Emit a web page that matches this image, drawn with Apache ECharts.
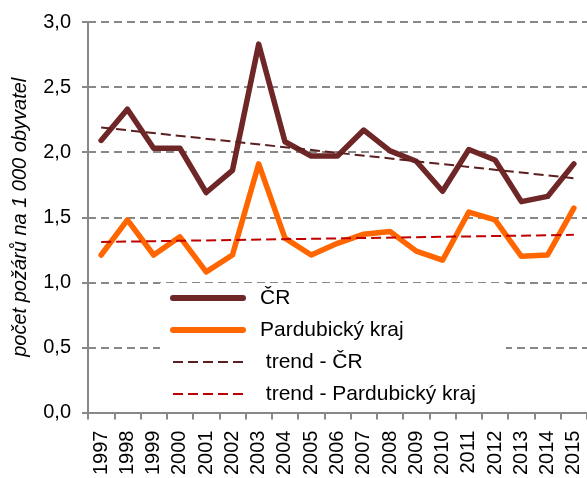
<!DOCTYPE html>
<html>
<head>
<meta charset="utf-8">
<script src="https://cdn.jsdelivr.net/npm/echarts@6/dist/echarts.min.js"></script>
<style>
  html, body { margin: 0; padding: 0; background: #fff; }
  #chart { width: 587px; height: 478px; }
</style>
</head>
<body>
<div id="chart"></div>
<script>
// Years on the category axis
const years = ['1997','1998','1999','2000','2001','2002','2003','2004','2005','2006',
               '2007','2008','2009','2010','2011','2012','2013','2014','2015'];

// Number of fires per 1 000 inhabitants
const cr = [2.09, 2.33, 2.03, 2.03, 1.69, 1.86, 2.83, 2.08, 1.97, 1.97,
            2.17, 2.01, 1.93, 1.70, 2.02, 1.94, 1.62, 1.66, 1.91];
const pardubice = [1.21, 1.48, 1.21, 1.35, 1.08, 1.21, 1.91, 1.34, 1.21, 1.30,
                   1.37, 1.39, 1.24, 1.17, 1.54, 1.48, 1.20, 1.21, 1.57];

// Linear trend lines: start and end values, joined straight across
const trendCrEnds = [2.19, 1.80];
const trendPardEnds = [1.31, 1.365];

// Y axis ticks
const yMin = 0, yMax = 3, yStep = 0.5;

// Series names (legend)
const names = ['ČR', 'Pardubický kraj', ' trend - ČR', ' trend - Pardubický kraj'];

function endsOnly(ends) {
  return years.map((_, i) => i === 0 ? ends[0] : (i === years.length - 1 ? ends[1] : null));
}

const font = 'Liberation Sans, Arial, sans-serif';
const chart = echarts.init(document.getElementById('chart'), null, { renderer: 'canvas' });

const mainLine = { width: 5.5, cap: 'round', join: 'round' };
const trendLine = { width: 2, type: [10, 5] };

chart.setOption({
  animation: false,
  backgroundColor: '#fff',
  grid: { left: 88, top: 22, width: 507, height: 392, containLabel: false },
  xAxis: {
    type: 'category',
    data: years,
    boundaryGap: true,
    axisLine: { lineStyle: { color: '#888', width: 2 } },
    axisTick: { show: true, length: 7, alignWithLabel: false, lineStyle: { color: '#888', width: 2 } },
    axisLabel: { rotate: 90, margin: 18, fontSize: 20, color: '#000', fontFamily: font, interval: 0 },
    splitLine: { show: false }
  },
  yAxis: {
    type: 'value',
    min: yMin, max: yMax, interval: yStep,
    name: 'počet požárů na 1 000 obyvatel',
    nameLocation: 'middle',
    nameGap: 58,
    nameRotate: 90,
    nameTextStyle: { fontSize: 20, fontStyle: 'italic', color: '#000', fontFamily: font },
    axisLine: { show: true, lineStyle: { color: '#888', width: 2 } },
    axisTick: { show: true, length: 6, lineStyle: { color: '#888', width: 2 } },
    axisLabel: {
      margin: 17, fontSize: 20, color: '#000', fontFamily: font,
      formatter: v => v.toFixed(1).replace('.', ',')
    },
    splitLine: { show: true, lineStyle: { color: '#888', width: 2, type: [8, 5] } }
  },
  legend: {
    orient: 'vertical',
    left: 160,
    top: 283,
    padding: [3, 30, 6, 10],
    backgroundColor: '#fff',
    itemWidth: 70,
    itemHeight: 14,
    itemGap: 8,
    itemStyle: { opacity: 0 },
    textStyle: { fontSize: 21, color: '#000', fontFamily: font, lineHeight: 24, padding: [0, 0, 0, 12] },
    data: [
      { name: names[0], lineStyle: { width: 6, cap: 'round' } },
      { name: names[1], lineStyle: { width: 6, cap: 'round' } },
      { name: names[2], lineStyle: { width: 2 } },
      { name: names[3], lineStyle: { width: 2 } }
    ]
  },
  series: [
    {
      name: names[0], type: 'line', data: cr, symbol: 'none',
      lineStyle: Object.assign({ color: '#6E2626' }, mainLine),
      itemStyle: { color: '#6E2626' }, z: 4
    },
    {
      name: names[1], type: 'line', data: pardubice, symbol: 'none',
      lineStyle: Object.assign({ color: '#FF6600' }, mainLine),
      itemStyle: { color: '#FF6600' }, z: 3
    },
    {
      name: names[2], type: 'line', data: endsOnly(trendCrEnds), connectNulls: true, symbol: 'none',
      lineStyle: Object.assign({ color: '#5C1F1F' }, trendLine),
      itemStyle: { color: '#5C1F1F' }, z: 5
    },
    {
      name: names[3], type: 'line', data: endsOnly(trendPardEnds), connectNulls: true, symbol: 'none',
      lineStyle: Object.assign({ color: '#C00000' }, trendLine),
      itemStyle: { color: '#C00000' }, z: 5
    }
  ]
});
</script>
</body>
</html>
